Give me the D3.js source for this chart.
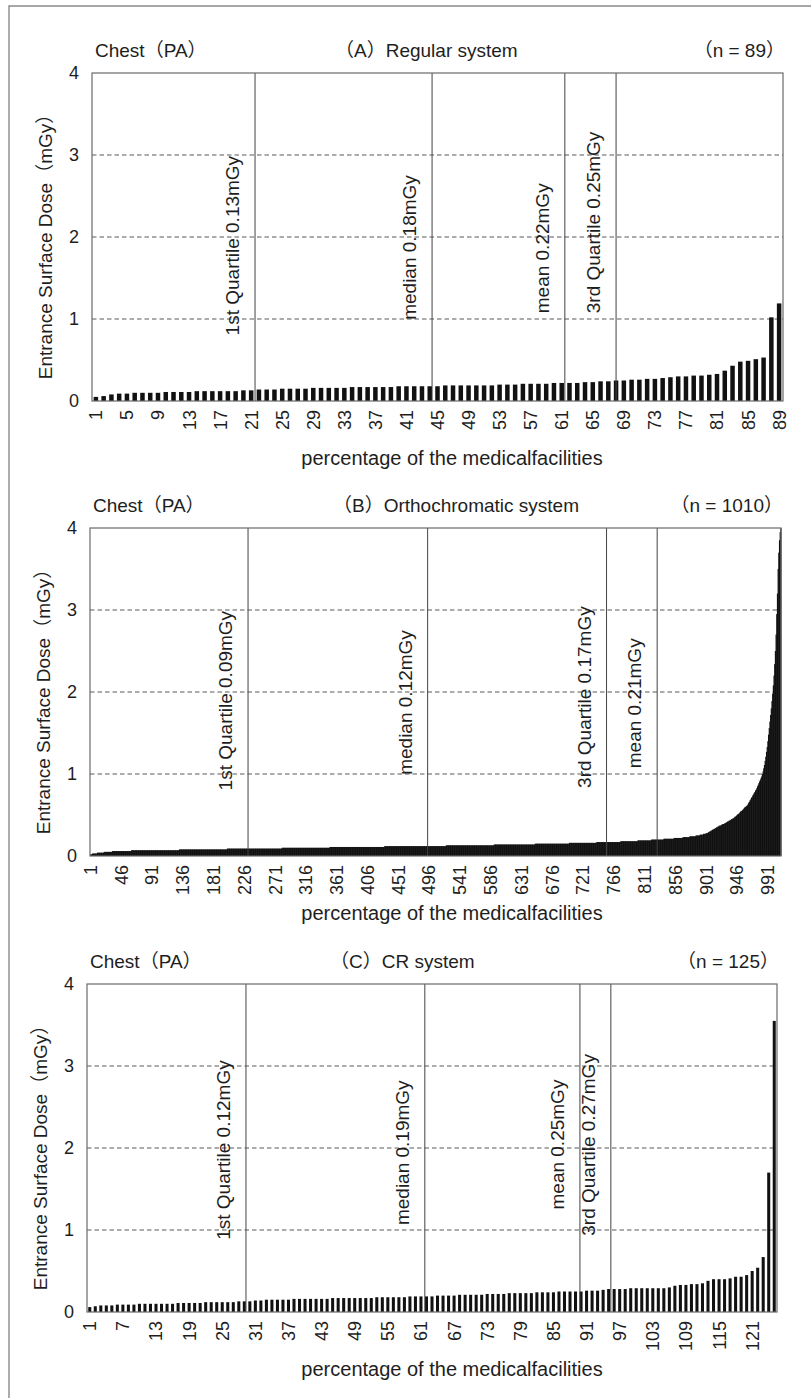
<!DOCTYPE html>
<html><head><meta charset="utf-8">
<script src="https://cdn.jsdelivr.net/npm/d3@7"></script>
<style>
body{margin:0;background:#fff;}
svg text{font-family:"Liberation Sans",Arial,"Noto Sans CJK JP",sans-serif;fill:#1e1e1e;}
</style></head><body>
<svg id="c" width="811" height="1398"></svg>
<script>
// ---------- DATA ----------
const yTicks = [0, 1, 2, 3, 4];
const gridValues = [1, 2, 3];

// (A) Regular system, n = 89, doses (mGy) sorted ascending
const dosesA = [0.05,0.06,0.08,0.09,0.09,0.10,0.10,0.10,0.10,0.11,
  0.11,0.11,0.11,0.12,0.12,0.12,0.12,0.12,0.12,0.13,
  0.13,0.14,0.14,0.14,0.15,0.15,0.15,0.15,0.16,0.16,
  0.16,0.16,0.16,0.17,0.17,0.17,0.17,0.17,0.17,0.18,
  0.18,0.18,0.18,0.18,0.18,0.19,0.19,0.19,0.19,0.19,
  0.19,0.19,0.20,0.20,0.20,0.21,0.21,0.21,0.21,0.22,
  0.22,0.22,0.22,0.23,0.23,0.24,0.24,0.25,0.25,0.26,
  0.26,0.27,0.27,0.28,0.29,0.30,0.30,0.31,0.31,0.32,
  0.33,0.37,0.43,0.48,0.49,0.51,0.53,1.02,1.19];
const ticksA = [1,5,9,13,17,21,25,29,33,37,41,45,49,53,57,61,65,69,73,77,81,85,89];
const refA = [
  {label:"1st Quartile 0.13mGy", at:21.0, from:0.80},
  {label:"median 0.18mGy",       at:43.8, from:0.99},
  {label:"mean 0.22mGy",         at:60.9, from:1.07},
  {label:"3rd Quartile 0.25mGy", at:67.5, from:1.07}
];

// (B) Orthochromatic system, n = 1010: [dose, number of facilities] for the flat part
const runsB = [[0.02,3],[0.03,7],[0.04,10],[0.05,12],[0.06,28],[0.07,70],[0.08,70],
  [0.09,80],[0.10,70],[0.11,80],[0.12,90],[0.13,70],[0.14,60],[0.15,50],[0.16,40],
  [0.17,35],[0.18,25],[0.19,20],[0.20,18],[0.21,15],[0.22,13],[0.23,10],[0.24,9],
  [0.25,6],[0.26,5],[0.27,4],[0.28,3]];
// steep tail of (B), facilities 904-1010
const tailB = [0.29,0.29,0.30,0.30,0.31,0.31,0.32,0.32,0.33,0.33,0.34,0.34,0.35,0.35,
  0.36,0.36,0.37,0.37,0.37,0.38,0.38,0.39,0.39,0.39,0.40,0.40,0.41,0.41,0.42,0.42,
  0.43,0.43,0.44,0.44,0.45,0.45,0.46,0.46,
  0.47,0.48,0.48,0.49,0.50,0.51,0.51,0.52,0.53,0.54,0.55,0.55,0.56,0.57,0.58,0.59,
  0.60,0.60,0.61,0.62,
  0.63,0.65,0.66,0.68,0.69,0.71,0.72,0.74,0.75,0.77,0.78,0.80,0.81,0.83,
  0.85,0.87,0.89,0.91,0.93,0.95,0.97,1.00,1.03,1.07,1.11,1.16,1.21,1.27,1.33,1.40,1.48,
  1.56,1.64,1.72,1.80,1.89,
  1.98,2.08,2.20,2.34,2.50,
  2.70,2.95,3.20,3.50,
  3.70,3.85,3.95,4.00];
const ticksB = [1,46,91,136,181,226,271,316,361,406,451,496,541,586,631,676,721,766,811,856,901,946,991];
const refB = [
  {label:"1st Quartile 0.09mGy", at:231,   from:0.80},
  {label:"median 0.12mGy",       at:493.5, from:0.99},
  {label:"3rd Quartile 0.17mGy", at:755,   from:0.83},
  {label:"mean 0.21mGy",         at:829,   from:1.07}
];

// (C) CR system, n = 125
const dosesC = [0.06,0.07,0.08,0.08,0.08,0.09,0.09,0.09,0.09,0.10,
  0.10,0.10,0.10,0.10,0.10,0.10,0.11,0.11,0.11,0.11,
  0.11,0.12,0.12,0.12,0.12,0.12,0.12,0.13,0.13,0.13,
  0.14,0.14,0.15,0.15,0.15,0.15,0.15,0.16,0.16,0.16,
  0.16,0.16,0.16,0.16,0.17,0.17,0.17,0.17,0.17,0.17,
  0.17,0.17,0.18,0.18,0.18,0.18,0.18,0.18,0.19,0.19,
  0.19,0.19,0.19,0.20,0.20,0.20,0.20,0.21,0.21,0.21,
  0.21,0.21,0.22,0.22,0.22,0.22,0.23,0.23,0.23,0.23,
  0.23,0.24,0.24,0.24,0.24,0.25,0.25,0.25,0.25,0.25,
  0.26,0.26,0.26,0.27,0.28,0.28,0.28,0.28,0.29,0.29,
  0.29,0.29,0.29,0.29,0.29,0.30,0.32,0.33,0.33,0.34,
  0.34,0.35,0.38,0.40,0.40,0.40,0.41,0.43,0.43,0.45,
  0.50,0.54,0.67,1.70,3.55];
const ticksC = [1,7,13,19,25,31,37,43,49,55,61,67,73,79,85,91,97,103,109,115,121];
const refC = [
  {label:"1st Quartile 0.12mGy", at:28.8, from:0.88},
  {label:"median 0.19mGy",       at:61.2, from:1.06},
  {label:"mean 0.25mGy",         at:89.3, from:1.25},
  {label:"3rd Quartile 0.27mGy", at:94.9, from:0.93}
];

const dosesB = runsB.flatMap(([v, c]) => Array(c).fill(v)).concat(tailB);

// ---------- LAYOUT ----------
const panels = [
  {title:"（A）Regular system", n:"（n = 89）", data:dosesA, ticks:ticksA, refs:refA,
   left:92, right:783, top:73, bottom:401, pad:0.42, titleX:335},
  {title:"（B）Orthochromatic system", n:"（n = 1010）", data:dosesB, ticks:ticksB, refs:refB,
   left:90, right:781, top:528, bottom:856, pad:0, titleX:333},
  {title:"（C）CR system", n:"（n = 125）", data:dosesC, ticks:ticksC, refs:refC,
   left:87, right:777, top:984, bottom:1312, pad:0.45, titleX:330}
];

const svg = d3.select("#c");
svg.append("rect").attr("width",811).attr("height",1398).attr("fill","#fff");
// outer frame of the figure
svg.append("path").attr("d","M9,1398V6H811").attr("fill","none")
  .attr("stroke","#8a8a8a").attr("stroke-width",1.4);

panels.forEach(p => {
  const g = svg.append("g");
  const n = p.data.length;
  const idx = d3.range(1, n + 1);
  const xb = d3.scaleBand().domain(idx).range([p.left, p.right]).paddingInner(p.pad).paddingOuter(p.pad/2);
  const xl = d3.scaleLinear().domain([0, n]).range([p.left, p.right]);
  const y = d3.scaleLinear().domain([0, 4]).range([p.bottom, p.top]);

  // grid
  g.selectAll(".grid").data(gridValues).join("line")
    .attr("x1", p.left).attr("x2", p.right)
    .attr("y1", d => y(d)).attr("y2", d => y(d))
    .attr("stroke", "#5a5a5a").attr("stroke-width", 1.1).attr("stroke-dasharray", "4.5,3");

  // bars
  const extra = p.pad === 0 ? 0.5 : 0;
  g.selectAll(".bar").data(p.data).join("rect")
    .attr("x", (d, i) => xb(i + 1))
    .attr("width", xb.bandwidth() + extra)
    .attr("y", d => y(Math.min(d, 4)))
    .attr("height", d => y(0) - y(Math.min(d, 4)))
    .attr("fill", "#111");

  // reference lines
  g.selectAll(".ref").data(p.refs).join("line")
    .attr("x1", d => xl(d.at)).attr("x2", d => xl(d.at))
    .attr("y1", p.top).attr("y2", p.bottom)
    .attr("stroke", "#444").attr("stroke-width", 1);
  g.selectAll(".refl").data(p.refs).join("text")
    .attr("transform", d => `translate(${xl(d.at) - 16},${y(d.from)}) rotate(-90)`)
    .attr("text-anchor", "start")
    .style("font-size", "19px")
    .text(d => d.label);

  // frame
  g.append("rect").attr("x", p.left).attr("y", p.top)
    .attr("width", p.right - p.left).attr("height", p.bottom - p.top)
    .attr("fill", "none").attr("stroke", "#6a6a6a").attr("stroke-width", 1.2);

  // y tick labels
  g.selectAll(".yt").data(yTicks).join("text")
    .attr("x", p.left - 13).attr("y", d => y(d)).attr("dy", "0.36em")
    .attr("text-anchor", "end").style("font-size", "18px").text(d => d);

  // x tick labels
  g.selectAll(".xt").data(p.ticks).join("text")
    .attr("transform", d => `translate(${xb(d) + xb.bandwidth()/2},${p.bottom + 9}) rotate(-90)`)
    .attr("dy", "0.36em").attr("text-anchor", "end").style("font-size", "18px")
    .text(d => d);

  // axis titles
  g.append("text")
    .attr("transform", `translate(${p.left - 40},${(p.top + p.bottom)/2 + 5}) rotate(-90)`)
    .attr("text-anchor", "middle").style("font-size", "19px")
    .text("Entrance Surface Dose（mGy）");
  g.append("text").attr("x", 452).attr("y", p.bottom + 64)
    .attr("text-anchor", "middle").style("font-size", "20px")
    .text("percentage of the medicalfacilities");

  // header row
  g.append("text").attr("x", p.left + 3).attr("y", p.top - 16)
    .style("font-size", "19px").text("Chest（PA）");
  g.append("text").attr("x", p.titleX).attr("y", p.top - 16)
    .style("font-size", "19px").text(p.title);
  g.append("text").attr("x", p.right + 2).attr("y", p.top - 16)
    .attr("text-anchor", "end").style("font-size", "19px").text(p.n);
});
</script>
</body></html>
